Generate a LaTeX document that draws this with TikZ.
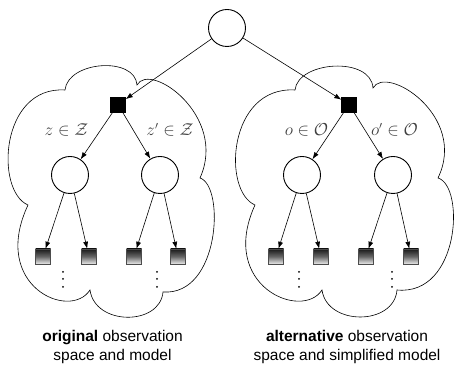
\documentclass[tikz,border=0pt]{standalone}
\usepackage{fontspec}
\setsansfont{Liberation Sans}
\usetikzlibrary{arrows.meta}
\begin{document}
\begin{tikzpicture}[x=1pt,y=1pt,
  arr/.style={-{Latex[length=7pt,width=5pt]}, line width=0.6pt},
  chance/.style={circle, draw, line width=0.9pt, minimum size=37pt, inner sep=0pt},
  decbox/.style={rectangle, fill=black, draw=black, minimum size=15pt, inner sep=0pt},
  leafbox/.style={rectangle, draw=black!70, line width=0.5pt, top color=black!90, bottom color=black!8, middle color=black!60, minimum size=15pt, inner sep=0pt},
  cloudline/.style={line width=0.6pt},
  mlabel/.style={font=\fontsize{16}{18}\selectfont, text=black!75},
  caption/.style={font=\sffamily\fontsize{15.5}{19}\selectfont, align=center}
]
\useasboundingbox (0,0) rectangle (464,366);

% clouds
\draw[cloudline] (65,276) .. controls (68,305) and (135,310) .. (137,281)
  .. controls (150,305) and (228,250) .. (200,188)
  .. controls (225,180) and (220,70) .. (163,74)
  .. controls (160,40) and (95,40) .. (90,76)
  .. controls (70,45) and (-10,80) .. (28,161)
  .. controls (-5,175) and (0,280) .. (65,276) -- cycle;
\draw[cloudline] (295,276) .. controls (298,305) and (371,310) .. (373,278)
  .. controls (386,302) and (468,250) .. (438,188)
  .. controls (465,180) and (460,70) .. (397,76)
  .. controls (394,40) and (327,40) .. (322,76)
  .. controls (302,45) and (218,80) .. (255,161)
  .. controls (222,175) and (228,280) .. (295,276) -- cycle;

% nodes
\node[chance] (root) at (227,338) {};
\node[decbox] (dL) at (118,261.5) {};
\node[decbox] (dR) at (349,261.5) {};
\node[chance] (c1) at (70,191) {};
\node[chance] (c2) at (160,191) {};
\node[chance] (c3) at (302,191) {};
\node[chance] (c4) at (393,191) {};
\node[leafbox] (l1) at (43,109.5) {};
\node[leafbox] (l2) at (89,109.5) {};
\node[leafbox] (l3) at (134,109.5) {};
\node[leafbox] (l4) at (178,109.5) {};
\node[leafbox] (l5) at (276,109.5) {};
\node[leafbox] (l6) at (321,109.5) {};
\node[leafbox] (l7) at (366,109.5) {};
\node[leafbox] (l8) at (411,109.5) {};

% connectors
\draw[arr] (root) -- (dL);
\draw[arr] (root) -- (dR);
\draw[arr] (dL) -- (c1);
\draw[arr] (dL) -- (c2);
\draw[arr] (dR) -- (c3);
\draw[arr] (dR) -- (c4);
\draw[arr] (c1) -- (l1);
\draw[arr] (c1) -- (l2);
\draw[arr] (c2) -- (l3);
\draw[arr] (c2) -- (l4);
\draw[arr] (c3) -- (l5);
\draw[arr] (c3) -- (l6);
\draw[arr] (c4) -- (l7);
\draw[arr] (c4) -- (l8);

% vertical dots
\foreach \x in {63,157,299,392} {
  \foreach \y in {94,87,79} { \fill (\x,\y) circle (1pt); }
}

% labels
\node[mlabel] (tz1) at (66.5,236) {$z\in\mathcal{Z}$};
\node[mlabel] (tz2) at (170,236) {$z'\in\mathcal{Z}$};
\node[mlabel] (to1) at (306.5,236) {$o\in\mathcal{O}$};
\node[mlabel] (to2) at (394.5,236) {$o'\in\mathcal{O}$};

\node[caption] (capL) at (112.5,19) {\textbf{original} observation\\space and model};
\node[caption] (capR) at (347,19) {\textbf{alternative} observation\\space and simplified model};
\end{tikzpicture}
\end{document}
